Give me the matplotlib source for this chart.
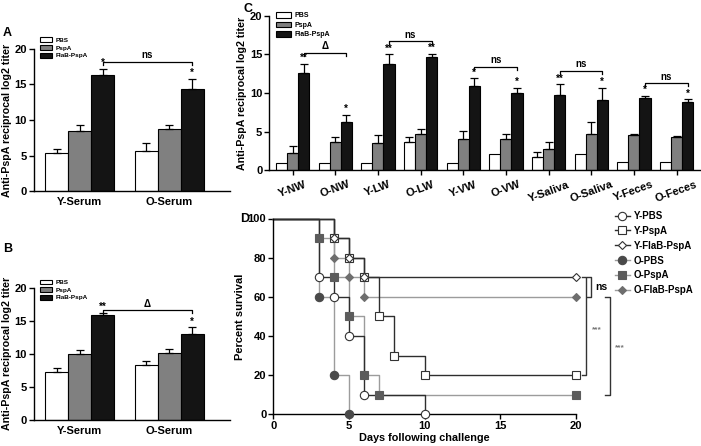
import matplotlib
matplotlib.use("Agg")
import matplotlib.pyplot as plt
import numpy as np
from matplotlib.patches import Patch
from matplotlib.lines import Line2D

plt.rcParams['font.family'] = ['Liberation Sans', 'DejaVu Sans']
plt.rcParams['font.weight'] = 'bold'
plt.rcParams['axes.labelweight'] = 'bold'

# ---------------- data ----------------
series = ["PBS", "PspA", "FlaB-PspA"]
serum_groups = ["Y-Serum", "O-Serum"]

a_pbs = [5.3, 5.7]
a_pbs_err = [0.6, 1.1]
a_pspa = [8.4, 8.8]
a_pspa_err = [0.9, 0.5]
a_flab = [16.4, 14.4]
a_flab_err = [0.8, 1.4]
a_stars = ["*", "*"]

b_pbs = [7.3, 8.3]
b_pbs_err = [0.6, 0.6]
b_pspa = [10.0, 10.1]
b_pspa_err = [0.6, 0.6]
b_flab = [15.8, 13.0]
b_flab_err = [0.4, 1.0]
b_stars = ["**", "*"]

c_groups = ["Y-NW", "O-NW", "Y-LW", "O-LW", "Y-VW", "O-VW",
            "Y-Saliva", "O-Saliva", "Y-Feces", "O-Feces"]
c_pbs = [1.0, 1.0, 1.0, 3.7, 1.0, 2.1, 1.7, 2.1, 1.05, 1.05]
c_pbs_err = [0, 0, 0, 0.55, 0, 0, 0.65, 0, 0, 0]
c_pspa = [2.2, 3.6, 3.5, 4.75, 4.05, 4.1, 2.7, 4.7, 4.55, 4.35]
c_pspa_err = [0.9, 0.65, 1.05, 0.6, 1.0, 0.65, 0.9, 1.5, 0.2, 0.1]
c_flab = [12.6, 6.3, 13.8, 14.6, 10.9, 10.0, 9.8, 9.1, 9.3, 8.8]
c_flab_err = [1.2, 0.9, 1.2, 0.5, 1.0, 0.7, 1.3, 1.6, 0.35, 0.4]
c_stars = ["**", "*", "**", "**", "*", "*", "**", "*", "*", "*"]
c_pairs = [(0, 1, 15.2, "Δ"), (2, 3, 16.7, "ns"), (4, 5, 13.4, "ns"),
           (6, 7, 12.85, "ns"), (8, 9, 11.25, "ns")]

ypbs_days = [0, 3, 4, 5, 6, 10]
ypbs_surv = [100, 70, 60, 40, 10, 0]
ypspa_days = [0, 4, 5, 6, 7, 8, 10, 20]
ypspa_surv = [100, 90, 80, 70, 50, 30, 20, 20]
yflab_days = [0, 4, 5, 6, 20]
yflab_surv = [100, 90, 80, 70, 70]
opbs_days = [0, 3, 4, 5]
opbs_surv = [100, 60, 20, 0]
opspa_days = [0, 3, 4, 5, 6, 7, 20]
opspa_surv = [100, 90, 70, 50, 20, 10, 10]
oflab_days = [0, 4, 5, 6, 20]
oflab_surv = [100, 80, 70, 60, 60]

# ---------------- styles ----------------
bar_colors = ["white", "#808080", "#141414"]
FS_TICK = 8
FS_LAB = 7.7

fig = plt.figure(figsize=(7.01, 4.46), dpi=100)


def W(px):
    return px / 701.0


def H(py):
    return 1 - py / 446.0


def style_ax(ax):
    for s in ["top", "right"]:
        ax.spines[s].set_visible(False)
    for s in ["left", "bottom"]:
        ax.spines[s].set_linewidth(1.0)
    ax.tick_params(axis='both', direction='out', length=3.5, width=1.0,
                   labelsize=FS_TICK, pad=1.5)
    for lab in ax.get_xticklabels() + ax.get_yticklabels():
        lab.set_fontweight('bold')


def bar_panel(ax, groups, means, errs, stars, width, xlim):
    x = np.arange(len(groups))
    offs = [-width, 0, width]
    for k in range(3):
        ax.bar(x + offs[k], means[k], width=width, color=bar_colors[k],
               edgecolor='black', linewidth=0.8, zorder=2)
        e = np.array(errs[k], dtype=float)
        m = np.array(means[k], dtype=float)
        mask = e > 0
        if mask.any():
            ax.errorbar((x + offs[k])[mask], m[mask],
                        yerr=[np.zeros(mask.sum()), e[mask]], fmt='none',
                        ecolor='black', elinewidth=0.9, capsize=3,
                        capthick=0.9, zorder=3)
    for i, s in enumerate(stars):
        top = means[2][i] + errs[2][i]
        ax.text(x[i] + width, top + 0.1, s, ha='center', va='bottom',
                fontsize=7, fontweight='bold')
    ax.set_xticks(x)
    ax.set_ylim(0, 20)
    ax.set_yticks([0, 5, 10, 15, 20])
    ax.set_xlim(*xlim)
    return x


def bracket(ax, x1, x2, y, label, dy=0.45, fs=7):
    ax.plot([x1, x1, x2, x2], [y - dy, y, y, y - dy], color='black',
            lw=0.9, clip_on=False)
    ax.text((x1 + x2) / 2, y + 0.2, label, ha='center', va='bottom',
            fontsize=fs, fontweight='bold')


def legend_bars(ax, x, y, fs, hl, hh, ls):
    handles = [Patch(facecolor=c, edgecolor='black', linewidth=0.8)
               for c in bar_colors]
    ax.legend(handles, series, loc='upper left', bbox_to_anchor=(x, y),
              bbox_transform=fig.transFigure, frameon=False,
              prop={'size': fs, 'weight': 'bold'}, handlelength=hl,
              handleheight=hh, handletextpad=0.6, labelspacing=ls,
              borderpad=0, borderaxespad=0)


# ---------------- panel A ----------------
axA = fig.add_axes([W(34), H(191), W(230 - 34), H(49) - H(191)])
wAB = 0.256
xA = bar_panel(axA, serum_groups, [a_pbs, a_pspa, a_flab],
               [a_pbs_err, a_pspa_err, a_flab_err], a_stars, wAB,
               (-0.51, 1.68))
axA.set_xticklabels(serum_groups, fontsize=8.5, fontweight='bold')
axA.set_ylabel("Anti-PspA reciprocal log2 titer", fontsize=FS_LAB,
               fontweight='bold', labelpad=1.5)
style_ax(axA)
axA.tick_params(axis='x', length=0, pad=4)
bracket(axA, xA[0] + wAB, xA[1] + wAB, 18.2, "ns")
legend_bars(axA, W(40), H(37.5), 4.6, 1.85, 0.8, 0.3)
fig.text(W(3), H(33), "A", fontsize=9, fontweight='bold', va='center')

# ---------------- panel B ----------------
axB = fig.add_axes([W(34), H(420), W(230 - 34), H(287.7) - H(420)])
xB = bar_panel(axB, serum_groups, [b_pbs, b_pspa, b_flab],
               [b_pbs_err, b_pspa_err, b_flab_err], b_stars, wAB,
               (-0.51, 1.68))
axB.set_xticklabels(serum_groups, fontsize=8.5, fontweight='bold')
axB.set_ylabel("Anti-PspA reciprocal log2 titer", fontsize=FS_LAB,
               fontweight='bold', labelpad=1.5)
style_ax(axB)
axB.tick_params(axis='x', length=0, pad=4)
bracket(axB, xB[0] + wAB, xB[1] + wAB, 16.6, "Δ")
legend_bars(axB, W(40), H(279.5), 4.6, 1.85, 0.8, 0.3)
fig.text(W(3), H(249), "B", fontsize=9, fontweight='bold', va='center')

# ---------------- panel C ----------------
axC = fig.add_axes([W(269.3), H(170.3), W(700 - 269.3), H(15.7) - H(170.3)])
wC = 0.26
xC = bar_panel(axC, c_groups, [c_pbs, c_pspa, c_flab],
               [c_pbs_err, c_pspa_err, c_flab_err], c_stars, wC,
               (-0.545, 9.55))
axC.set_xticklabels(c_groups, rotation=20, ha='center', fontsize=8,
                    fontweight='bold')
axC.set_ylabel("Anti-PspA reciprocal log2 titer", fontsize=FS_LAB,
               fontweight='bold', labelpad=2)
style_ax(axC)
axC.tick_params(axis='x', length=3.5, pad=3)
for i1, i2, yb, lab in c_pairs:
    bracket(axC, xC[i1] + wC, xC[i2] + wC, yb, lab, dy=0.4)
legend_bars(axC, W(276), H(12), 5.0, 2.1, 0.85, 0.35)
fig.text(W(243), H(9), "C", fontsize=9, fontweight='bold', va='center')

# ---------------- panel D ----------------
axD = fig.add_axes([W(273.3), H(414.3), W(576 - 273.3), H(218.5) - H(414.3)])
DARK = "#2e2e2e"
LIGHT = "#9c9c9c"
curves = [
    ("Y-PBS", ypbs_days, ypbs_surv, 'o', 'white', DARK),
    ("Y-PspA", ypspa_days, ypspa_surv, 's', 'white', DARK),
    ("Y-FlaB-PspA", yflab_days, yflab_surv, 'D', 'white', DARK),
    ("O-PBS", opbs_days, opbs_surv, 'o', '#4a4a4a', LIGHT),
    ("O-PspA", opspa_days, opspa_surv, 's', '#5c5c5c', LIGHT),
    ("O-FlaB-PspA", oflab_days, oflab_surv, 'D', '#6e6e6e', LIGHT),
]
msz = {'o': 6, 's': 5.5, 'D': 4.5}
for name, d, s, mk, fc, lc in curves[3:] + curves[:3]:
    axD.step(d, s, where='post', color=lc, lw=1.0, zorder=2, clip_on=False)
for name, d, s, mk, fc, lc in curves[3:] + curves[:3]:
    ec = '#333333' if fc == 'white' else fc
    axD.plot(d[1:], s[1:], linestyle='none', marker=mk, markersize=msz[mk],
             markerfacecolor=fc, markeredgecolor=ec, markeredgewidth=0.8,
             zorder=4, clip_on=False)
axD.set_xlim(0, 20)
axD.set_ylim(0, 100)
axD.set_xticks([0, 5, 10, 15, 20])
axD.set_yticks([0, 20, 40, 60, 80, 100])
axD.set_xlabel("Days following challenge", fontsize=7.8,
               fontweight='bold', labelpad=1)
axD.set_ylabel("Percent survival", fontsize=8, fontweight='bold',
               labelpad=2)
style_ax(axD)


def vbr(ax, x, y1, y2, xt, color='#333333'):
    ax.plot([xt, x, x, xt], [y1, y1, y2, y2], color=color, lw=1.0,
            clip_on=False)


vbr(axD, 21.0, 70, 60, 20.75)
axD.text(21.25, 65, "ns", fontsize=7.5, fontweight='bold', va='center',
         ha='left')
vbr(axD, 20.67, 70, 20, 20.4)
axD.text(21.35, 43, "***", fontsize=6, color='#777777', va='center',
         ha='center')
vbr(axD, 22.25, 60, 10, 21.92)
axD.text(22.87, 34, "***", fontsize=6, color='#777777', va='center',
         ha='center')

handles = []
for name, d, s, mk, fc, lc in curves:
    ec = '#333333' if fc == 'white' else fc
    handles.append(Line2D([0], [0], color=lc, lw=1.0, marker=mk,
                          markersize=msz[mk], markerfacecolor=fc,
                          markeredgecolor=ec, markeredgewidth=0.8))
axD.legend(handles, [c[0] for c in curves], loc='upper left',
           bbox_to_anchor=(W(615), H(211)), bbox_transform=fig.transFigure,
           frameon=False, prop={'size': 7, 'weight': 'bold'},
           handlelength=1.5, handletextpad=0.4, labelspacing=0.5,
           borderpad=0, borderaxespad=0)
fig.text(W(240), H(219), "D", fontsize=9, fontweight='bold', va='center')

fig.savefig("out.png", dpi=100)
